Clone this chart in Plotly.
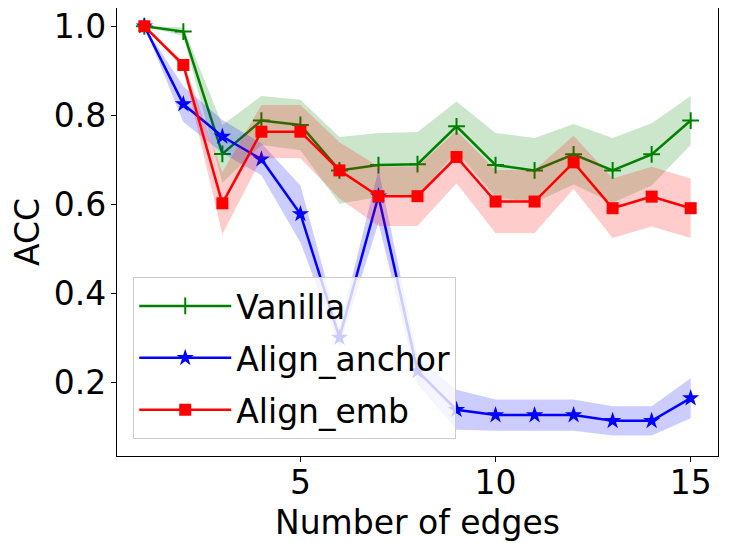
import numpy as np
import plotly.graph_objects as go

# number of edges
edges = list(range(1, 16))

# mean accuracy per method
vanilla = [1.0, 0.988, 0.713, 0.788, 0.778, 0.676, 0.688, 0.69, 0.775, 0.688, 0.676, 0.712, 0.676, 0.712, 0.788]
align_anchor = [1.0, 0.825, 0.752, 0.701, 0.578, 0.300, 0.618, 0.225, 0.138, 0.126, 0.126, 0.126, 0.113, 0.113, 0.164]
align_emb = [1.0, 0.913, 0.602, 0.763, 0.763, 0.676, 0.618, 0.618, 0.706, 0.606, 0.606, 0.694, 0.591, 0.617, 0.591]

# std (shaded band)
vanilla_std = [0.0, 0.01, 0.065, 0.055, 0.057, 0.075, 0.072, 0.072, 0.056, 0.072, 0.073, 0.068, 0.073, 0.07, 0.055]
align_anchor_std = [0.0, 0.04, 0.037, 0.036, 0.064, 0.02, 0.06, 0.03, 0.045, 0.035, 0.035, 0.035, 0.033, 0.033, 0.045]
align_emb_std = [0.0, 0.008, 0.07, 0.06, 0.06, 0.063, 0.067, 0.067, 0.059, 0.071, 0.071, 0.06, 0.067, 0.067, 0.067]

FONT = "DejaVu Sans"
SIZE = 33

series = [
    ("Vanilla", vanilla, vanilla_std, "green", "rgba(0,128,0,0.2)",
     dict(symbol="cross-thin", size=12, line=dict(width=2, color="green"))),
    ("Align_anchor", align_anchor, align_anchor_std, "blue", "rgba(0,0,255,0.2)",
     dict(symbol="star", size=13, color="blue")),
    ("Align_emb", align_emb, align_emb_std, "red", "rgba(255,0,0,0.2)",
     dict(symbol="square", size=12, color="red")),
]

fig = go.Figure()

for name, mean, std, color, fill, marker in series:
    m = np.array(mean)
    s = np.array(std)
    upper = m + s
    lower = m - s
    # shaded band
    fig.add_trace(go.Scatter(
        x=edges + edges[::-1],
        y=list(upper) + list(lower[::-1]),
        fill="toself",
        fillcolor=fill,
        line=dict(width=0),
        mode="lines",
        hoverinfo="skip",
        showlegend=False,
    ))
    # mean line
    fig.add_trace(go.Scatter(
        x=edges,
        y=mean,
        mode="lines+markers",
        name=name,
        legendgroup=name,
        line=dict(color=color, width=2.5),
        marker=marker,
    ))

# page body has an 8px margin, so the figure is drawn 8px smaller
fig.update_layout(
    width=722,
    height=535,
    margin=dict(l=109, r=12, t=0, b=87),
    paper_bgcolor="white",
    plot_bgcolor="white",
    font=dict(family=FONT, size=SIZE, color="black"),
    legend=dict(
        x=0.027, y=0.038, xanchor="left", yanchor="bottom",
        bgcolor="rgba(255,255,255,0.8)",
        bordercolor="#cccccc", borderwidth=1,
        font=dict(family=FONT, size=SIZE),
        itemwidth=92,
        tracegroupgap=6,
    ),
)

fig.update_xaxes(
    range=[0.3, 15.7],
    tickvals=[5, 10, 15],
    tickfont=dict(family=FONT, size=SIZE),
    ticks="outside", ticklen=5, tickwidth=1.2, tickcolor="black",
    ticklabelstandoff=-8, ticklabeloverflow="allow",
    showline=True, linecolor="black", linewidth=1.2, mirror=True,
    showgrid=False, zeroline=False,
    title=dict(text="Number of edges", font=dict(family=FONT, size=SIZE), standoff=10),
)
fig.update_yaxes(
    range=[0.034, 1.041],
    tickvals=[0.2, 0.4, 0.6, 0.8, 1.0],
    tickformat=".1f",
    tickfont=dict(family=FONT, size=SIZE),
    ticks="outside", ticklen=5, tickwidth=1.2, tickcolor="black",
    ticklabelstandoff=-2, ticklabeloverflow="allow",
    showline=True, linecolor="black", linewidth=1.2, mirror=True,
    showgrid=False, zeroline=False,
    title=dict(text="ACC", font=dict(family=FONT, size=SIZE), standoff=8),
)

fig.write_html("out.html")
